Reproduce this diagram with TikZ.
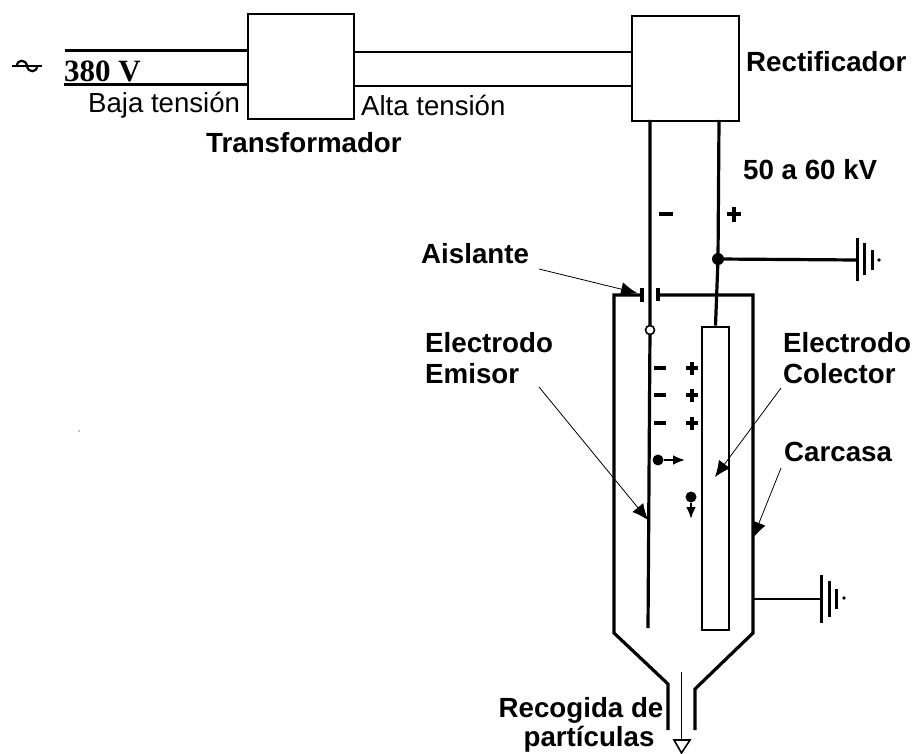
\documentclass[tikz,border=0pt]{standalone}
\usepackage{fontspec}
\setmainfont{Liberation Sans}
\newfontfamily\voltfont{Liberation Serif}
\usetikzlibrary{arrows.meta}

\tikzset{
  thick line/.style={line width=3.2pt},
  box/.style={draw,line width=2.2pt,minimum width=#1,minimum height=105pt,inner sep=0pt},
  label/.style={font=\fontsize{27.6}{30}\selectfont,inner sep=0pt,align=center},
  bold label/.style={font=\fontsize{27.7}{31}\selectfont\bfseries,inner sep=0pt,align=left},
  pointer/.style={line width=.8pt,-{Latex[length=16pt,width=14pt]}},
  small arrow/.style={line width=2.4pt,-{Latex[length=12pt,width=10pt]}},
  charge/.style={circle,fill,inner sep=0pt,minimum size=11pt},
}

\begin{document}
\begin{tikzpicture}[x=1pt,y=-1pt]
    \useasboundingbox (0,0) rectangle (915,754);

    % boxes
    \node[box=106pt] (trans) at (301,66.5) {};
    \node[box=107pt] (rect) at (685.5,68.5) {};
    \node[draw,line width=2.6pt,minimum width=27pt,minimum height=303pt,inner sep=0pt] (colector) at (715.5,478.5) {};

    % low and high voltage lines
    \coordinate (in1) at (65,51);
    \coordinate (in2) at (64,85);
    \draw[line width=3pt] (in1) -- (in1 -| trans.west);
    \draw[line width=3pt] (in2) -- (in2 -| trans.west);
    \coordinate (out1) at (354,52);
    \coordinate (out2) at (354,86);
    \draw[line width=2pt] (out1) -- (out1 -| rect.west);
    \draw[line width=2pt] (out2) -- (out2 -| rect.west);

    % ac symbol
    \coordinate (acl) at (12,66);
    \coordinate (acr) at (42,66);
    \draw[line width=2.2pt] (acl) -- (acr);
    \draw[line width=2.2pt] (17,66) .. controls (17,59) and (26,59) .. (27,66) .. controls (28,73) and (37,73) .. (37,66);

    % emitter and collector lines
    \coordinate (emtop) at (650,120);
    \coordinate (emhole) at (650,330);
    \coordinate (embot) at (648,628);
    \coordinate (junction) at (718,259);
    \draw[thick line] (emtop) -- (emhole) -- (embot);
    \draw[thick line] (colector.north) -- (junction) -- (719,120);
    \node[circle,draw,fill=white,line width=1.6pt,inner sep=0pt,minimum size=9pt] (hole) at (emhole) {};
    \node[circle,fill,inner sep=0pt,minimum size=12pt] (dot) at (junction) {};

    % casing
    \coordinate (tl) at (614,295);
    \coordinate (tr) at (753,295);
    \coordinate (gapl) at (642,295);
    \coordinate (gapr) at (658,295);
    \draw[thick line,line join=miter] (gapl) -- (tl) -- (614,633) -- (668,684) -- (668,730);
    \draw[thick line,line join=miter] (gapr) -- (tr) -- (753,633) -- (695,689) -- (695,730);
    \draw[thick line] (642,288) -- (642,302);
    \draw[thick line] (658,288) -- (658,301);

    % grounds
    \coordinate (gnda) at (857,260);
    \coordinate (gndb) at (821,599);
    \draw[thick line] (dot) -- (gnda);
    \draw[line width=2.6pt] (753,599) -- (gndb);
    \draw[line width=3pt] (857,238) -- (857,281) (864.5,243) -- (864.5,275) (872,250) -- (872,270);
    \fill (879,260) circle (1.8pt);
    \draw[line width=3pt] (821,575) -- (821,623) (829,581) -- (829,617) (836,589) -- (836,609);
    \fill (844,598) circle (1.8pt);

    % exit arrow
    \coordinate (exit) at (681.5,672);
    \draw[line width=1pt] (exit) -- (681.5,740);
    \draw[line width=1.6pt] (674,740) -- (690,740) -- (681.5,753) -- cycle;

    % charges
    \foreach \y in {368,395,423} {
      \draw[line width=3.2pt] (654,\y) -- (666,\y);
      \draw[line width=3.2pt] (686,\y) -- (698,\y) (692,\y-6.5) -- (692,\y+6.5);
    }
    \draw[line width=3.4pt] (659,214) -- (673,214);
    \draw[line width=3.4pt] (727,214) -- (741,214) (734,206.5) -- (734,221.5);

    % particles
    \node[charge] (pa) at (658,460) {};
    \node[charge] (pb) at (691,497) {};
    \coordinate (pae) at (685,460);
    \coordinate (pbe) at (691,519);
    \draw[small arrow] (pa) -- (pae);
    \draw[small arrow] (pb) -- (pbe);

    % labels
    \node[font=\fontsize{31}{31}\selectfont\voltfont\bfseries,anchor=base west,inner sep=0pt] (volt) at (64,81.5) {380 V};
    \node[label,anchor=base west] (baja) at (88,113) {Baja tensión};
    \node[label,anchor=base west] (alta) at (361,116) {Alta tensión};
    \node[bold label,anchor=base west] (ltrans) at (206,153) {Transformador};
    \node[bold label,anchor=base west] (lrect) at (746,71.5) {Rectificador};
    \node[bold label,anchor=base west] (lkv) at (743,180) {50 a 60 kV};
    \node[bold label,anchor=base west] (lais) at (421,263) {Aislante};
    \node[bold label,anchor=base west] (lem1) at (425,352) {Electrodo};
    \node[bold label,anchor=base west] (lem2) at (425,383) {Emisor};
    \node[bold label,anchor=base west] (lcol1) at (783,352) {Electrodo};
    \node[bold label,anchor=base west] (lcol2) at (783,383) {Colector};
    \node[bold label,anchor=base west] (lcar) at (784,461) {Carcasa};
    \node[bold label,anchor=base] (lrec1) at (581,717) {Recogida de};
    \node[bold label,anchor=base] (lrec2) at (589,746) {partículas};

    % pointers
    \coordinate (pais) at (637,293);
    \coordinate (pem) at (648,520);
    \coordinate (pcol) at (715,477);
    \coordinate (pcar) at (753,538);
    \draw[pointer] (539,269) -- (pais);
    \draw[pointer] (539,387) -- (pem);
    \draw[pointer] (781,388) -- (pcol);
    \draw[pointer] (781,468) -- (pcar);

    % stray dot
    \fill (79,431) circle (.7pt);
\end{tikzpicture}
\end{document}
